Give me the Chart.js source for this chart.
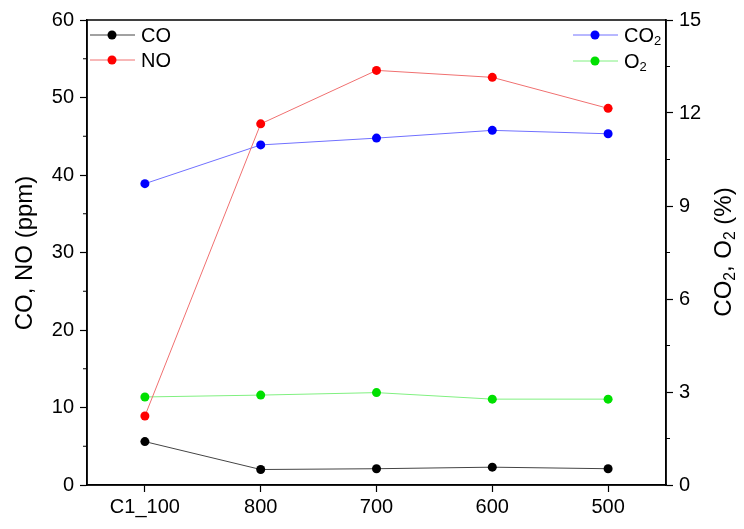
<!DOCTYPE html>
<html>
<head>
<meta charset="utf-8">
<script src="https://cdn.jsdelivr.net/npm/chart.js@4.4.1/dist/chart.umd.min.js"></script>
<style>
    html, body { margin: 0; padding: 0; background: #fff; }
    #wrap { width: 744px; height: 529px; position: relative; }
</style>
</head>
<body>
<div id="wrap"><canvas id="chart"></canvas></div>
<script>
const categories = ['C1_100', '800', '700', '600', '500'];
const coValues = [5.6, 2.0, 2.1, 2.3, 2.1];
const noValues = [8.9, 46.6, 53.5, 52.6, 48.6];
const co2Values = [9.72, 10.97, 11.19, 11.44, 11.33];
const o2Values = [2.84, 2.9, 2.98, 2.77, 2.77];
const leftTicks = [0, 10, 20, 30, 40, 50, 60];
const rightTicks = [0, 3, 6, 9, 12, 15];

const FONT = '"Liberation Sans", Arial, sans-serif';

// draws "CO" + subscript "2" style text pieces
const drawPieces = (ctx, pieces, x, y, size) => {
    let cx = x;
    pieces.forEach(p => {
        const s = p.sub ? size * 0.65 : size;
        ctx.font = `${s}px ${FONT}`;
        ctx.fillText(p.t, cx, p.sub ? y + size * 0.28 : y);
        cx += ctx.measureText(p.t).width;
    });
    return cx - x;
};

const measurePieces = (ctx, pieces, size) => {
    let w = 0;
    pieces.forEach(p => {
        ctx.font = `${p.sub ? size * 0.65 : size}px ${FONT}`;
        w += ctx.measureText(p.t).width;
    });
    return w;
};

const decorPlugin = {
    id: 'decor',
    afterDraw(chart) {
        const ctx = chart.ctx;
        const a = chart.chartArea;
        const y = chart.scales.y;
        const y1 = chart.scales.y1;
        ctx.save();

        // frame
        ctx.strokeStyle = '#000';
        ctx.lineWidth = 1.5;
        ctx.strokeRect(a.left, a.top, a.right - a.left, a.bottom - a.top);

        // minor ticks
        ctx.lineWidth = 1.2;
        ctx.beginPath();
        for (let v = 5; v < 60; v += 10) {
            const py = y.getPixelForValue(v);
            ctx.moveTo(a.left, py);
            ctx.lineTo(a.left - 4, py);
        }
        for (let v = 1.5; v < 15; v += 3) {
            const py = y1.getPixelForValue(v);
            ctx.moveTo(a.right, py);
            ctx.lineTo(a.right + 4, py);
        }
        ctx.stroke();

        // legends
        const legends = [
            { x: 90, y: 35, line: '#444', dot: '#000', text: [{ t: 'CO' }] },
            { x: 90, y: 60, line: '#f07070', dot: '#ff0000', text: [{ t: 'NO' }] },
            { x: 573, y: 35, line: '#7070ff', dot: '#0000ff', text: [{ t: 'CO' }, { t: '2', sub: true }] },
            { x: 573, y: 61, line: '#80f080', dot: '#00e000', text: [{ t: 'O' }, { t: '2', sub: true }] }
        ];
        ctx.textBaseline = 'middle';
        ctx.textAlign = 'left';
        ctx.fillStyle = '#000';
        legends.forEach(l => {
            ctx.strokeStyle = l.line;
            ctx.lineWidth = 1;
            ctx.beginPath();
            ctx.moveTo(l.x, l.y);
            ctx.lineTo(l.x + 45, l.y);
            ctx.stroke();
            ctx.fillStyle = l.dot;
            ctx.beginPath();
            ctx.arc(l.x + 22, l.y, 4.5, 0, Math.PI * 2);
            ctx.fill();
            ctx.fillStyle = '#000';
            drawPieces(ctx, l.text, l.x + 51, l.y + 1, 20);
        });

        // axis titles
        const leftTitle = [{ t: 'CO, NO (ppm)' }];
        const rightTitle = [{ t: 'CO' }, { t: '2', sub: true }, { t: ', O' }, { t: '2', sub: true }, { t: ' (%)' }];
        ctx.save();
        ctx.translate(25, 253);
        ctx.rotate(-Math.PI / 2);
        drawPieces(ctx, leftTitle, -measurePieces(ctx, leftTitle, 24) / 2, 0, 24);
        ctx.restore();
        ctx.save();
        ctx.translate(724, 252);
        ctx.rotate(-Math.PI / 2);
        drawPieces(ctx, rightTitle, -measurePieces(ctx, rightTitle, 24) / 2, 0, 24);
        ctx.restore();

        ctx.restore();
    }
};

const makeSet = (label, data, line, dot, axis) => ({
    label: label,
    data: data,
    yAxisID: axis,
    borderColor: line,
    borderWidth: 1,
    backgroundColor: dot,
    pointBackgroundColor: dot,
    pointBorderColor: dot,
    pointRadius: 4.5,
    pointBorderWidth: 0,
    tension: 0,
    fill: false
});

new Chart(document.getElementById('chart'), {
    type: 'line',
    data: {
        labels: categories,
        datasets: [
            makeSet('CO', coValues, '#444', '#000', 'y'),
            makeSet('NO', noValues, '#f07070', '#ff0000', 'y'),
            makeSet('CO2', co2Values, '#7070ff', '#0000ff', 'y1'),
            makeSet('O2', o2Values, '#80f080', '#00e000', 'y1')
        ]
    },
    options: {
        responsive: true,
        maintainAspectRatio: false,
        animation: false,
        layout: { padding: { top: 20, left: 0, right: 0, bottom: 0 } },
        plugins: {
            legend: { display: false },
            tooltip: { enabled: false }
        },
        scales: {
            x: {
                type: 'category',
                offset: true,
                grid: { drawOnChartArea: false, offset: false, tickLength: 7, tickColor: '#000', tickWidth: 1.2 },
                border: { display: true, color: '#000', width: 1.5 },
                ticks: { color: '#000', font: { family: FONT, size: 20 }, padding: 3, maxRotation: 0 },
                afterFit: s => { s.height = 44; }
            },
            y: {
                position: 'left',
                min: 0,
                max: 60,
                afterBuildTicks: s => { s.ticks = leftTicks.map(v => ({ value: v })); },
                grid: { drawOnChartArea: false, tickLength: 7, tickColor: '#000', tickWidth: 1.2 },
                border: { display: true, color: '#000', width: 1.5 },
                ticks: { color: '#000', font: { family: FONT, size: 20 }, padding: 6 },
                afterFit: s => { s.width = 87; }
            },
            y1: {
                position: 'right',
                min: 0,
                max: 15,
                afterBuildTicks: s => { s.ticks = rightTicks.map(v => ({ value: v })); },
                grid: { drawOnChartArea: false, tickLength: 7, tickColor: '#000', tickWidth: 1.2 },
                border: { display: true, color: '#000', width: 1.5 },
                ticks: { color: '#000', font: { family: FONT, size: 20 }, padding: 6 },
                afterFit: s => { s.width = 78; }
            }
        }
    },
    plugins: [decorPlugin]
});
</script>
</body>
</html>
